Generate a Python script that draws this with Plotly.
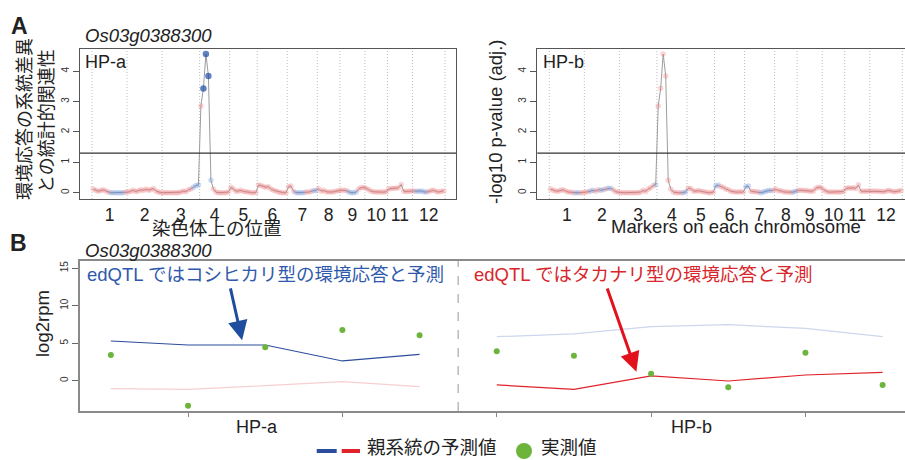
import plotly.graph_objects as go

W, H = 905, 460

# ---------------- Panel A: edQTL scan, -log10 adjusted p-value per marker ----------------
CHROM_LABELS = ["1", "2", "3", "4", "5", "6", "7", "8", "9", "10", "11", "12"]
GENE = "Os03g0388300"
THRESHOLD = 1.3  # -log10(0.05)

# values per chromosome; direction code per marker: r = Takanari-type, b = Koshihikari-type,
# B = Koshihikari-type and significant
HPA_P = [
    [0.12, 0.08, 0.05, 0.07, 0.10, 0.06, 0.02, 0.00, 0.00, 0.00, 0.00, 0.00, 0.00, 0.02],
    [0.02, 0.05, 0.08, 0.04, 0.06, 0.10, 0.07, 0.12, 0.08, 0.10, 0.14, 0.06, 0.02, 0.00],
    [0.00, 0.00, 0.00, 0.00, 0.00, 0.00, 0.00, 0.02, 0.06, 0.03, 0.10, 0.12, 0.18, 0.24, 0.25],
    [2.85, 3.43, 4.56, 3.84, 0.41, 0.12, 0.02, 0.00, 0.00, 0.00, 0.00, 0.02],
    [0.18, 0.12, 0.05, 0.06, 0.08, 0.04, 0.03, 0.02, 0.00, 0.00, 0.01],
    [0.25, 0.24, 0.20, 0.18, 0.20, 0.12, 0.08, 0.06, 0.02, 0.00, 0.00, 0.00],
    [0.20, 0.22, 0.05, 0.00, 0.00, 0.00, 0.00, 0.02, 0.02, 0.04, 0.07, 0.07],
    [0.14, 0.05, 0.08, 0.03, 0.02, 0.02, 0.03, 0.05, 0.07],
    [0.08, 0.08, 0.07, 0.03, 0.00, 0.00, 0.02, 0.12, 0.17, 0.17],
    [0.15, 0.10, 0.05, 0.03, 0.02, 0.02, 0.02, 0.02, 0.03],
    [0.12, 0.14, 0.15, 0.15, 0.16, 0.27, 0.05, 0.04, 0.05, 0.06],
    [0.06, 0.05, 0.05, 0.06, 0.03, 0.02, 0.04, 0.07, 0.08, 0.04, 0.02, 0.05, 0.06],
]
HPA_DIR = [
    "rrrrrrrbbbbbbr", "rrrrrrrrrrrrrr", "rrrrrrrrrrrrbbb", "rBBBbrrrrrrr",
    "rrrrrrrrrrr", "rrrrrrrrrrrr", "rrrbbbbrrrbb", "rrrrrrrrr",
    "rrrbbbbrrr", "rrrrrrrrr", "rrrrrrrrrr", "rbbbbbrrrrrrr",
]

HPB_P = [
    [0.12, 0.08, 0.06, 0.05, 0.08, 0.10, 0.06, 0.02, 0.02, 0.00, 0.00, 0.00, 0.00, 0.00],
    [0.02, 0.03, 0.06, 0.08, 0.05, 0.10, 0.08, 0.10, 0.12, 0.15, 0.15, 0.10, 0.03, 0.02],
    [0.00, 0.00, 0.00, 0.00, 0.00, 0.00, 0.00, 0.00, 0.02, 0.08, 0.04, 0.12, 0.16, 0.24, 0.26],
    [2.85, 3.44, 4.56, 3.84, 0.41, 0.12, 0.02, 0.00, 0.00, 0.00, 0.00, 0.03],
    [0.15, 0.14, 0.06, 0.05, 0.07, 0.05, 0.03, 0.02, 0.00, 0.00, 0.02],
    [0.22, 0.25, 0.20, 0.18, 0.12, 0.10, 0.05, 0.03, 0.02, 0.02, 0.03, 0.02],
    [0.20, 0.22, 0.05, 0.04, 0.03, 0.02, 0.00, 0.02, 0.05, 0.07, 0.07, 0.08],
    [0.12, 0.06, 0.07, 0.03, 0.02, 0.02, 0.01, 0.02, 0.05],
    [0.08, 0.08, 0.07, 0.07, 0.06, 0.05, 0.06, 0.15, 0.18, 0.17],
    [0.10, 0.05, 0.02, 0.02, 0.02, 0.02, 0.02, 0.02, 0.04],
    [0.14, 0.16, 0.15, 0.16, 0.14, 0.26, 0.05, 0.05, 0.05, 0.06],
    [0.06, 0.05, 0.06, 0.05, 0.04, 0.03, 0.05, 0.08, 0.06, 0.03, 0.04, 0.06, 0.07],
]
HPB_DIR = [
    "rrrrrrrrrrbbrr", "rrbbrrbbrbbrrr", "rrrrrrrrrrrrrrb", "rrrrrrrrrrbb",
    "rrrrrrrrrrr", "bbrrrrrrrrrr", "bbrrrrbbbbbr", "rrrrrrrbb",
    "rrrrrrrrrr", "rrrrrrrrr", "rrrrrrrrrr", "rrrrrrrrrrrrr",
]

# ---------------- Panel B: expression (log2rpm) per environment ----------------
HPA_KOSHI = [5.29, 4.76, 4.76, 2.63, 3.52]
HPA_TAKA = [-1.07, -1.15, -0.67, -0.13, -0.80]
HPA_OBS = [3.43, -3.33, 4.45, 6.76, 6.05]
HPB_KOSHI = [5.87, 6.23, 7.20, 7.47, 6.98, 5.87]
HPB_TAKA = [-0.57, -1.15, 0.63, -0.04, 0.76, 1.12]
HPB_OBS = [3.92, 3.33, 0.93, -0.88, 3.73, -0.57]

LATIN = "Liberation Sans, Arial, Noto Sans CJK JP, sans-serif"
CJK = "Noto Sans CJK JP, Liberation Sans, sans-serif"

DIR_COLOR = {"r": "rgba(236,120,124,0.45)", "b": "rgba(105,140,215,0.45)", "B": "#1f4ba5"}
DIR_SIZE = {"r": 5.5, "b": 5.5, "B": 6.5}

def px(x):
    return x / W

def py(y):
    return 1 - y / H

# marker index along the genome and chromosome boundaries
counts = [len(c) for c in HPA_P]
bounds = [0.5]
for n in counts:
    bounds.append(bounds[-1] + n)
mids = [(bounds[i] + bounds[i + 1]) / 2 for i in range(len(counts))]

fig = go.Figure()

def scan_traces(values, dirs, xa, ya):
    xs, ys, cols, sizes = [], [], [], []
    i = 1
    for chrom_vals, chrom_dirs in zip(values, dirs):
        for v, d in zip(chrom_vals, chrom_dirs):
            xs.append(i)
            ys.append(v)
            cols.append(DIR_COLOR[d])
            sizes.append(DIR_SIZE[d])
            i += 1
    fig.add_trace(go.Scatter(x=xs, y=ys, mode="lines", line=dict(color="#9c9c9c", width=1),
                             xaxis=xa, yaxis=ya, showlegend=False, hoverinfo="skip"))
    fig.add_trace(go.Scatter(x=xs, y=ys, mode="markers",
                             marker=dict(color=cols, size=sizes, line=dict(width=0)),
                             xaxis=xa, yaxis=ya, showlegend=False))

scan_traces(HPA_P, HPA_DIR, "x", "y")
scan_traces(HPB_P, HPB_DIR, "x2", "y2")

# Panel B traces
xa_pos = list(range(1, len(HPA_OBS) + 1))
xb_pos = list(range(len(HPA_OBS) + 1, len(HPA_OBS) + len(HPB_OBS) + 1))
DARK_BLUE, LIGHT_BLUE = "#2c4d9c", "#cdd6ec"
DARK_RED, LIGHT_RED = "#e0232b", "#f7cfd0"
GREEN = "#6cb43c"

for xs, koshi, taka, obs, kcol, tcol in [
    (xa_pos, HPA_KOSHI, HPA_TAKA, HPA_OBS, DARK_BLUE, LIGHT_RED),
    (xb_pos, HPB_KOSHI, HPB_TAKA, HPB_OBS, LIGHT_BLUE, DARK_RED),
]:
    fig.add_trace(go.Scatter(x=xs, y=koshi, mode="lines", line=dict(color=kcol, width=1.2),
                             xaxis="x3", yaxis="y3", showlegend=False))
    fig.add_trace(go.Scatter(x=xs, y=taka, mode="lines", line=dict(color=tcol, width=1.2),
                             xaxis="x3", yaxis="y3", showlegend=False))
    fig.add_trace(go.Scatter(x=xs, y=obs, mode="markers", marker=dict(color=GREEN, size=6),
                             xaxis="x3", yaxis="y3", showlegend=False))

# ---------------- axes ----------------
yA = dict(range=[-0.207, 4.727], tickvals=[0, 1, 2, 3, 4], ticks="outside", ticklen=6,
          tickcolor="#555", tickangle=-90, tickfont=dict(size=10, color="#333", family=LATIN),
          showgrid=False, zeroline=False, showline=True, linecolor="#555", linewidth=1)
xA = dict(tickvals=mids, ticktext=CHROM_LABELS, ticks="", showgrid=False, zeroline=False,
          showline=True, mirror=True, linecolor="#555", linewidth=1,
          tickfont=dict(size=17.5, color="#222", family=LATIN))

fig.update_layout(
    width=W, height=H, margin=dict(l=0, r=0, t=0, b=0),
    paper_bgcolor="white", plot_bgcolor="white",
    font=dict(family=LATIN, color="#222"),
    xaxis=dict(xA, domain=[px(80), px(456)], range=[-4.29, 145.89], anchor="y"),
    yaxis=dict(yA, domain=[py(199), py(49)], anchor="x", mirror=True),
    xaxis2=dict(xA, domain=[px(537.3), 1.0], range=[-4.29, 142.58], anchor="y2"),
    yaxis2=dict(yA, domain=[py(199), py(49)], anchor="x2", mirror=False),
    xaxis3=dict(domain=[px(80), 1.0], range=[0.60, 11.29], anchor="y3",
                tickvals=[2, 4, 6, 8, 10], ticks="outside", ticklen=4, tickcolor="#888",
                showticklabels=False, showgrid=False, zeroline=False,
                showline=True, mirror=True, linecolor="#8a8a8a", linewidth=1.5),
    yaxis3=dict(domain=[py(411), py(261)], range=[-4.04, 15.96], anchor="x3",
                tickvals=[0, 5, 10, 15], ticks="outside", ticklen=6, tickcolor="#666",
                tickangle=-90, tickfont=dict(size=10, color="#333", family=LATIN),
                showgrid=False, zeroline=False, showline=True, linecolor="#8a8a8a", linewidth=1.5),
)

shapes = []
for xr, yr in [("x", "y"), ("x2", "y2")]:
    for b in bounds:
        shapes.append(dict(type="line", xref=xr, yref=yr + " domain", x0=b, x1=b, y0=0, y1=1,
                           line=dict(color="#bdbdbd", width=1, dash="1px,2px"), layer="below"))
    shapes.append(dict(type="line", xref=xr + " domain", yref=yr, x0=0, x1=1,
                       y0=THRESHOLD, y1=THRESHOLD, line=dict(color="#333", width=1.2)))
# separator between the two environments in panel B
sep = (xa_pos[-1] + xb_pos[0]) / 2
shapes.append(dict(type="line", xref="x3", yref="y3 domain", x0=sep, x1=sep, y0=0, y1=1,
                   line=dict(color="#aaa", width=1.2, dash="dash")))
# legend glyphs
shapes.append(dict(type="line", xref="paper", yref="paper", x0=px(316.7), x1=px(336.7),
                   y0=py(451), y1=py(451), line=dict(color=DARK_BLUE, width=4)))
shapes.append(dict(type="line", xref="paper", yref="paper", x0=px(341.7), x1=px(360),
                   y0=py(451), y1=py(451), line=dict(color=DARK_RED, width=4)))
shapes.append(dict(type="circle", xref="paper", yref="paper", x0=px(516), x1=px(532),
                   y0=py(459), y1=py(443), fillcolor=GREEN, line=dict(width=0)))
fig.update_layout(shapes=shapes)

ann = []

def text(t, x, y, size, family=LATIN, color="#222", xanchor="center", yanchor="middle", angle=0):
    ann.append(dict(text=t, x=px(x), y=py(y), xref="paper", yref="paper", showarrow=False,
                    xanchor=xanchor, yanchor=yanchor, textangle=angle, borderpad=0,
                    font=dict(size=size, family=family, color=color)))

text("<b>A</b>", 19, 26, 23)
text("<b>B</b>", 18, 243, 23)
text("<i>" + GENE + "</i>", 84, 35, 18.5, xanchor="left")
text("<i>" + GENE + "</i>", 84, 250, 18.5, xanchor="left")
text("HP-a", 84, 62, 18, xanchor="left")
text("HP-b", 542, 62, 18, xanchor="left")
text("環境応答の系統差異", 23, 119, 18, family=CJK, angle=-90)
text("との統計的関連性", 45, 121, 18, family=CJK, angle=-90)
text("-log10 p-value (adj.)", 495, 122, 18.5, angle=-90)
text("染色体上の位置", 217, 227, 18.5, family=CJK)
text("Markers on each chromosome", 736, 227, 18.5)
text("log2rpm", 42, 324, 18.5, angle=-90)
text("HP-a", 257, 427, 18)
text("HP-b", 691, 427, 18)
text("親系統の予測値", 366, 460, 18.5, family=CJK, xanchor="left", yanchor="bottom")
text("実測値", 540, 460, 18.5, family=CJK, xanchor="left", yanchor="bottom")

# callouts in panel B
ann.append(dict(text="edQTL ではコシヒカリ型の環境応答と予測", x=0.67, y=14.1, xref="x3", yref="y3",
                showarrow=False, xanchor="left", yanchor="middle",
                font=dict(size=18.5, family=LATIN, color="#2f5aab")))
ann.append(dict(text="edQTL ではタカナリ型の環境応答と予測", x=5.68, y=14.1, xref="x3", yref="y3",
                showarrow=False, xanchor="left", yanchor="middle",
                font=dict(size=18.5, family=LATIN, color="#d8262c")))
ann.append(dict(text="", x=2.70, y=5.4, ax=2.545, ay=12.5, xref="x3", yref="y3",
                axref="x3", ayref="y3", showarrow=True, arrowhead=2, arrowsize=1.3,
                arrowwidth=3, arrowcolor="#1f4e9e", standoff=0))
ann.append(dict(text="", x=7.81, y=1.2, ax=7.425, ay=12.5, xref="x3", yref="y3",
                axref="x3", ayref="y3", showarrow=True, arrowhead=2, arrowsize=1.3,
                arrowwidth=3, arrowcolor="#e3101e", standoff=0))
fig.update_layout(annotations=ann)

fig.write_html("out.html")
